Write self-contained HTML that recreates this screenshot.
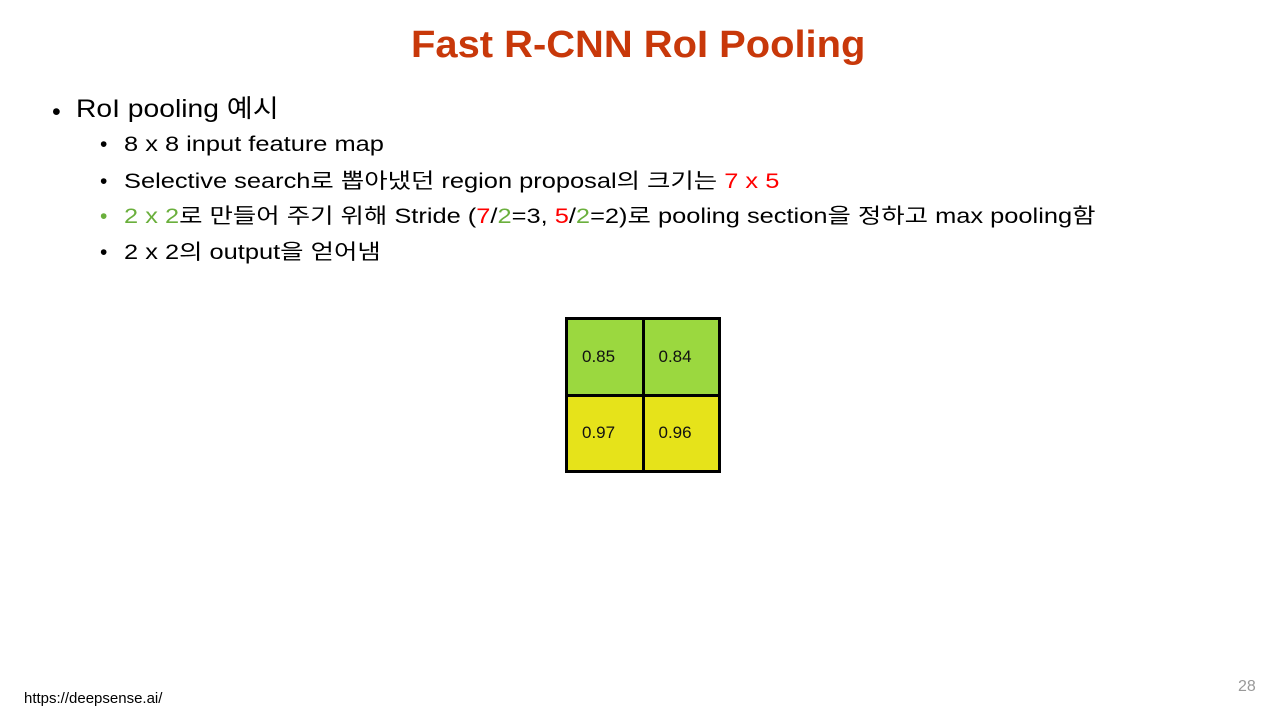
<!DOCTYPE html>
<html><head><meta charset="utf-8"><style>
body{margin:0;width:1280px;height:720px;background:#fff;position:relative;overflow:hidden;font-family:"Liberation Sans","Noto Sans CJK KR",sans-serif;color:#000}
.a{position:absolute;white-space:nowrap}
.t{left:411px;top:24px;font-size:38px;font-weight:bold;color:#C8380A;transform:scaleX(1.05);transform-origin:left}
.b{position:absolute;font-size:21px;line-height:24px}
.l1{left:76px;top:94px;font-size:25px;line-height:30px;transform:scaleX(1.13);transform-origin:left}
.l2{left:124px;font-size:21px;line-height:24px;transform:scaleX(1.21);transform-origin:left}
.r{color:#f00}.g{color:#6AAF3C}
.grid{position:absolute;left:565px;top:317px;width:150px;height:150px;border:3px solid #000;display:grid;grid-template-columns:1fr 1fr;grid-template-rows:1fr 1fr;gap:3px;background:#000}
.grid div{display:flex;align-items:center;padding-left:14px;font-size:17px;font-family:"Liberation Sans",sans-serif;color:#111}
.gr{background:#9BD83F}.ye{background:#E6E31A}
</style></head><body>
<div class="a t">Fast R-CNN RoI Pooling</div>
<div class="b" style="left:52px;top:97px;font-size:25px;line-height:30px">•</div>
<div class="a l1">RoI pooling 예시</div>
<div class="b" style="left:100px;top:133px">•</div>
<div class="a l2" style="top:133px">8 x 8 input feature map</div>
<div class="b" style="left:100px;top:170px">•</div>
<div class="a l2" style="top:170px">Selective search로 뽑아냈던 region proposal의 크기는 <span class="r">7 x 5</span></div>
<div class="b g" style="left:100px;top:205px">•</div>
<div class="a l2" style="top:205px"><span class="g">2 x 2</span>로 만들어 주기 위해 Stride (<span class="r">7</span>/<span class="g">2</span>=3, <span class="r">5</span>/<span class="g">2</span>=2)로 pooling section을 정하고 max pooling함</div>
<div class="b" style="left:100px;top:241px">•</div>
<div class="a l2" style="top:241px">2 x 2의 output을 얻어냄</div>
<div class="grid"><div class="gr">0.85</div><div class="gr">0.84</div><div class="ye">0.97</div><div class="ye">0.96</div></div>
<div class="a" style="left:24px;top:690px;font-size:15px">https://deepsense.ai/</div>
<div class="a" style="left:1238px;top:678px;font-size:16px;color:#999">28</div>
</body></html>
